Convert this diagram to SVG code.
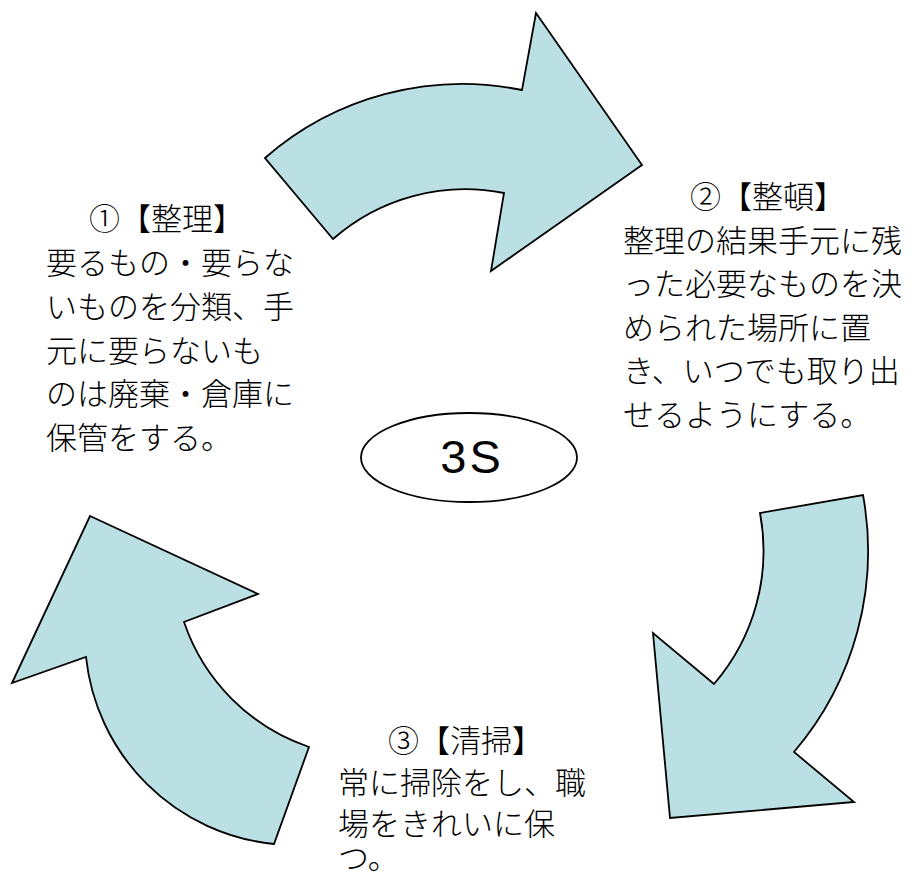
<svg xmlns="http://www.w3.org/2000/svg" width="914" height="878" viewBox="0 0 914 878">
<style>
.arrow{fill:#BAE0E3;stroke:#000;stroke-width:1.8;stroke-linejoin:miter}
.t{font-family:"Noto Sans CJK JP","Noto Sans CJK SC",sans-serif;font-size:31px;font-weight:300;fill:#000}
.c{font-family:"Liberation Sans",Arial,sans-serif;font-size:47px;fill:#000}
</style>
<rect width="914" height="878" fill="#fff"/>
<g id="connectors">
<path id="arrow-top" class="arrow" d="M 265,158 A 300 300 0 0 1 522,90 L 536,13 L 642,165 L 491,271 L 504,193 A 200 200 0 0 0 333,239 Z"/>
<path id="arrow-right" class="arrow" d="M 863,495 A 310 310 0 0 1 794,752 L 854,802 L 670,818 L 653,633 L 714,684 A 204 204 0 0 0 760,513 Z"/>
<path id="arrow-left" class="arrow" d="M 90,516 L 258,594 L 184,622 A 200 200 0 0 0 309,747 L 274,844 A 210 210 0 0 1 86,657 L 12,683 Z"/>
</g>
<g id="center">
<ellipse cx="469" cy="457.5" rx="108" ry="44.5" fill="#fff" stroke="#000" stroke-width="1.8"/>
<text class="c" x="472" y="473" text-anchor="middle" letter-spacing="3">3S</text>
</g>
<g id="node1">
<text class="t" x="89" y="230">①【整理】</text>
<text class="t" x="46" y="274">要るもの・要らな</text>
<text class="t" x="46" y="318">いものを分類、手</text>
<text class="t" x="46" y="361.5">元に要らないも</text>
<text class="t" x="46" y="405">のは廃棄・倉庫に</text>
<text class="t" x="46" y="449">保管をする。</text>
</g>
<g id="node2">
<text class="t" x="690" y="208">②【整頓】</text>
<text class="t" x="623" y="251.5">整理の結果手元に残</text>
<text class="t" x="623" y="295">った必要なものを決</text>
<text class="t" x="623" y="338.5">められた場所に置</text>
<text class="t" x="623" y="382">き、いつでも取り出</text>
<text class="t" x="623" y="425.5">せるようにする。</text>
</g>
<g id="node3">
<text class="t" x="388" y="752">③【清掃】</text>
<text class="t" x="338" y="794">常に掃除をし、職</text>
<text class="t" x="338" y="835">場をきれいに保</text>
<text class="t" x="338" y="869">つ。</text>
</g>
</svg>
